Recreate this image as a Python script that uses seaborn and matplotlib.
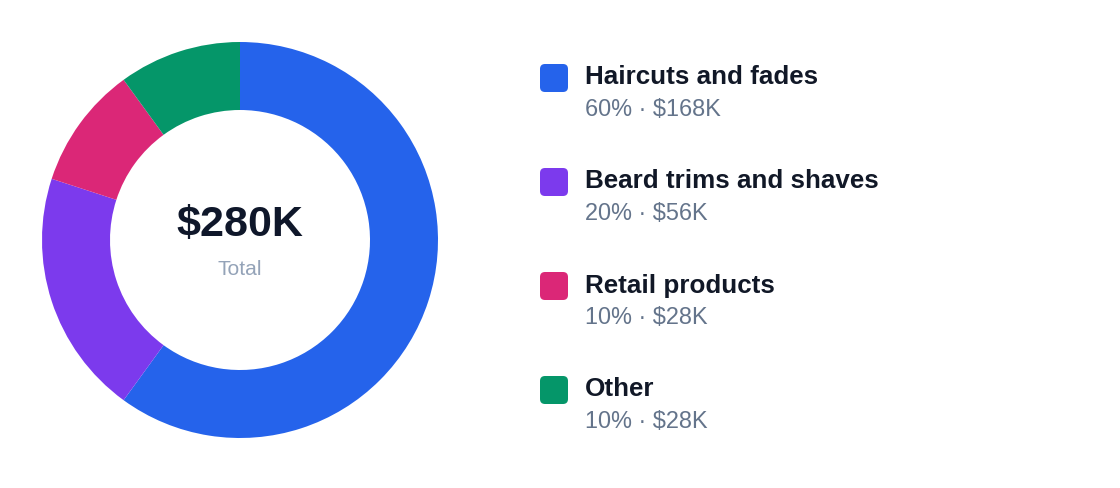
import matplotlib
matplotlib.use("Agg")
import matplotlib.pyplot as plt
import seaborn as sns
from matplotlib.patches import FancyBboxPatch

categories = ["Haircuts and fades", "Beard trims and shaves", "Retail products", "Other"]
shares = [60, 20, 10, 10]
amounts = ["$168K", "$56K", "$28K", "$28K"]
total_label = "$280K"
center_sub = "Total"
colors = ["#2563EB", "#7C3AED", "#DB2777", "#059669"]

sns.set_theme(style="white")
plt.rcParams['font.family'] = ['Liberation Sans', 'DejaVu Sans']

W, H = 1120, 488
DPI = 100
fig = plt.figure(figsize=(W / DPI, H / DPI), dpi=DPI)
fig.patch.set_facecolor("white")

def px(v):
    return v * 72 / DPI

# donut axes: centre (240,240), outer radius 198
cx, cy, R = 240, 240, 198
ax = fig.add_axes([(cx - R) / W, (H - cy - R) / H, 2 * R / W, 2 * R / H])
palette = sns.color_palette(colors)
ax.pie(shares, colors=palette, startangle=90, counterclock=False, radius=1,
       wedgeprops=dict(width=68 / R, linewidth=0))
ax.set_xlim(-1, 1)
ax.set_ylim(-1, 1)
ax.set_aspect("equal")
ax.axis("off")

# overlay in pixel coordinates
ov = fig.add_axes([0, 0, 1, 1], zorder=5)
ov.set_xlim(0, W)
ov.set_ylim(H, 0)
ov.axis("off")
ov.patch.set_alpha(0)

ov.text(cx, 236, total_label, ha="center", va="baseline", fontsize=px(43),
        fontweight="bold", color="#0F172A")
ov.text(cx, 275, center_sub, ha="center", va="baseline", fontsize=px(21),
        color="#94A3B8")

for i, (cat, sh, am, col) in enumerate(zip(categories, shares, amounts, colors)):
    top = 64 + 104 * i
    ov.add_patch(FancyBboxPatch((540, top), 28, 28,
                                boxstyle="round,pad=0,rounding_size=5",
                                facecolor=col, edgecolor="none"))
    ov.text(585, top + 20.5, cat, ha="left", va="baseline", fontsize=px(26),
            fontweight="bold", color="#111827")
    ov.text(585, top + 52, f"{sh}% \u00b7 {am}", ha="left", va="baseline",
            fontsize=px(23.5), color="#64748B")

fig.savefig("out.png", dpi=DPI, facecolor="white")
